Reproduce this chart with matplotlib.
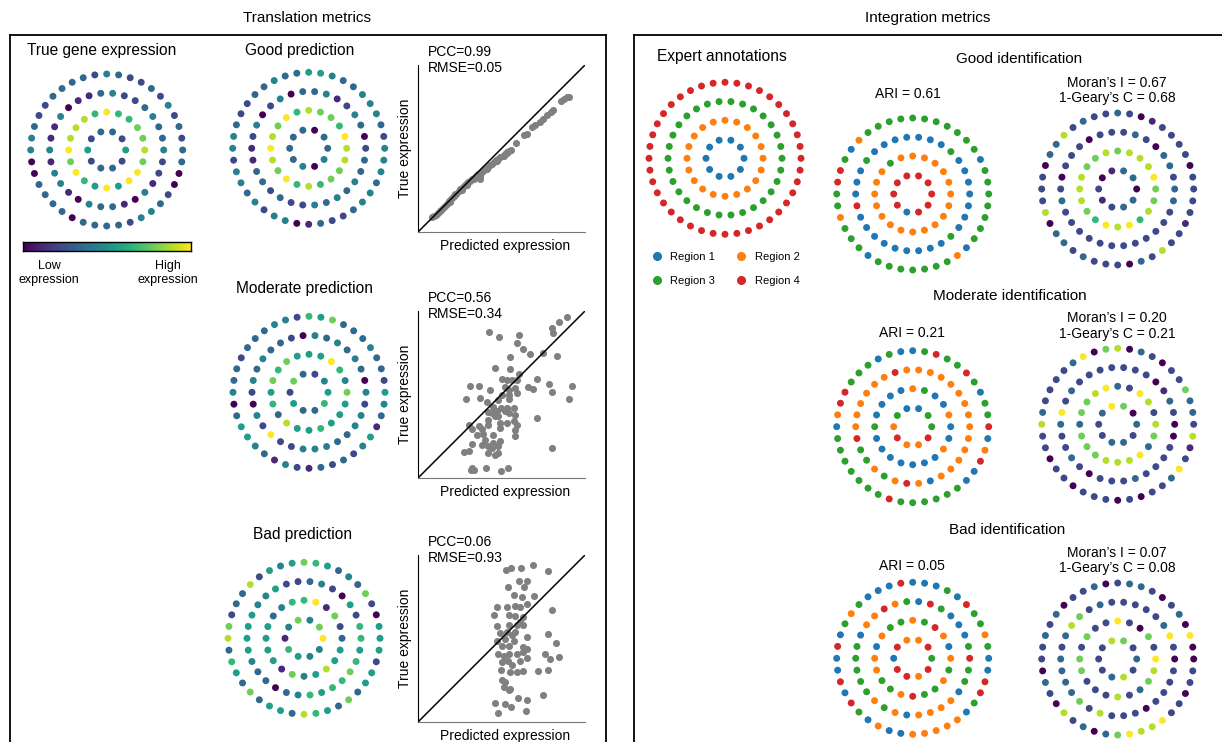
import numpy as np
import matplotlib
matplotlib.use('Agg')
import matplotlib.pyplot as plt
from matplotlib.lines import Line2D

plt.rcParams['font.family'] = ['Liberation Sans', 'DejaVu Sans']

# ring spot values: one string per ring (10/20/30/40 spots), read counter-clockwise
# starting at the right-most spot. expression levels 0..9 (viridis), regions 1..4
true_expr = ["5233252332",
             "8776696888" "9796595997",
             "4334322431" "1041141441" "0433104122",
             "3232423223" "4233332234" "4003333033" "3324432003"]
good_expr = ["3303333404",
             "8967786978" "9879686778",
             "2034214330" "4204211332" "3224343433",
             "4234443345" "5334332234" "4244342440" "1322344344"]
moderate_expr = ["5423725336",
                 "7469555767" "5638556555",
                 "4034343402" "3343420429" "2244433442",
                 "5233433375" "6244333233" "4035543142" "1323245134"]
bad_expr = ["9747416544",
            "3271966435" "5551745855",
            "6625024322" "5445555433" "0346566765",
            "5502734356" "7545283327" "8365373553" "8653735525"]

expert_regions = ["1" * 10, "2" * 20, "3" * 30, "4" * 40]
good_regions = ["4444444144",
                "2222222322" "2222222222",
                "1111311111" "1131114111" "1111113111",
                "3331333333" "3333321344" "3323331333" "3333213333"]
moderate_regions = ["3311324224",
                    "1211321111" "3111111121",
                    "2222222224" "2222224332" "3242122222",
                    "4331343343" "1131333442" "1333333343" "3333311421"]
bad_regions = ["3422414424",
               "2124323321" "2233243323",
               "4311134132" "4221333332" "3212222133",
               "1323341311" "1411132314" "1141431211" "2222213441"]

good_moran = ["0331021233",
              "7988878778" "8876989687",
              "3233023222" "0222023222" "2222222223",
              "2202222102" "3223283302" "2280332322" "2032822122"]
moderate_moran = ["3079322332",
                  "8289239877" "3777888937",
                  "0231022222" "2232932232" "0222322220",
                  "2337220230" "8709322223" "8220220222" "0202239218"]
bad_moran = ["3278222382",
             "9270292272" "7722282378",
             "0293222223" "2783233337" "2822202222",
             "0090320233" "2032203232" "2032082303" "7988922022"]

region_names = ['Region 1', 'Region 2', 'Region 3', 'Region 4']
region_colors = ['#1f77b4', '#ff7f0e', '#2ca02c', '#d62728']

# predicted vs true scatter values
good_pred = [0.084, 0.094, 0.108, 0.12, 0.13, 0.14, 0.15, 0.16, 0.174, 0.188,
             0.198, 0.208, 0.218, 0.23, 0.244, 0.254, 0.266, 0.278, 0.29, 0.302,
             0.314, 0.326, 0.338, 0.35, 0.362, 0.374, 0.386, 0.398, 0.41, 0.422,
             0.434, 0.446, 0.458, 0.47, 0.482, 0.494, 0.506, 0.518, 0.53, 0.542,
             0.554, 0.584, 0.634, 0.65, 0.684, 0.698, 0.73, 0.75, 0.774, 0.794,
             0.806, 0.854, 0.874, 0.894, 0.906, 0.194, 0.224, 0.264, 0.294, 0.334,
             0.414, 0.474, 0.514, 0.534, 0.374]
good_true = [0.09, 0.096, 0.104, 0.114, 0.124, 0.134, 0.146, 0.156, 0.17, 0.186,
             0.2, 0.21, 0.216, 0.23, 0.246, 0.256, 0.266, 0.278, 0.29, 0.298,
             0.306, 0.316, 0.326, 0.336, 0.346, 0.32, 0.36, 0.37, 0.38, 0.39,
             0.4, 0.41, 0.42, 0.43, 0.438, 0.448, 0.456, 0.466, 0.474, 0.484,
             0.494, 0.534, 0.578, 0.586, 0.63, 0.64, 0.66, 0.674, 0.7, 0.72,
             0.73, 0.786, 0.798, 0.81, 0.81, 0.18, 0.226, 0.254, 0.284, 0.32,
             0.376, 0.424, 0.458, 0.478, 0.338]

moderate_pred = [0.426, 0.486, 0.606, 0.805, 0.811, 0.847, 0.89, 0.592, 0.631, 0.671,
                 0.751, 0.831, 0.552, 0.462, 0.552, 0.602, 0.502, 0.532, 0.562, 0.592,
                 0.711, 0.787, 0.92, 0.313, 0.363, 0.432, 0.522, 0.542, 0.582, 0.592,
                 0.661, 0.691, 0.801, 0.287, 0.373, 0.412, 0.482, 0.542, 0.904, 0.452,
                 0.498, 0.532, 0.572, 0.422, 0.472, 0.522, 0.442, 0.482, 0.542, 0.582,
                 0.711, 0.303, 0.363, 0.422, 0.492, 0.532, 0.572, 0.592, 0.323, 0.382,
                 0.492, 0.582, 0.353, 0.392, 0.452, 0.582, 0.402, 0.452, 0.492, 0.323,
                 0.382, 0.422, 0.482, 0.442, 0.273, 0.303, 0.422, 0.482, 0.462, 0.801,
                 0.323, 0.333, 0.406, 0.496, 0.538, 0.319, 0.422, 0.462, 0.502, 0.542]
moderate_true = [0.873, 0.847, 0.857, 0.896, 0.867, 0.932, 0.966, 0.807, 0.773, 0.743,
                 0.747, 0.731, 0.727, 0.657, 0.651, 0.622, 0.592, 0.588, 0.588, 0.588,
                 0.594, 0.562, 0.548, 0.552, 0.548, 0.528, 0.544, 0.524, 0.538, 0.508,
                 0.544, 0.532, 0.512, 0.476, 0.478, 0.458, 0.468, 0.472, 0.472, 0.428,
                 0.418, 0.418, 0.418, 0.398, 0.404, 0.404, 0.388, 0.369, 0.388, 0.378,
                 0.359, 0.319, 0.309, 0.315, 0.329, 0.329, 0.339, 0.315, 0.293, 0.293,
                 0.299, 0.289, 0.259, 0.265, 0.259, 0.249, 0.229, 0.209, 0.219, 0.205,
                 0.199, 0.189, 0.193, 0.179, 0.153, 0.159, 0.149, 0.149, 0.135, 0.179,
                 0.06, 0.05, 0.06, 0.044, 0.06, 0.046, 0.349, 0.369, 0.498, 0.498]

bad_pred = [0.526, 0.558, 0.618, 0.691, 0.777, 0.606, 0.651, 0.538, 0.637, 0.572,
            0.697, 0.625, 0.472, 0.532, 0.582, 0.612, 0.651, 0.801, 0.458, 0.546,
            0.582, 0.627, 0.472, 0.542, 0.592, 0.631, 0.492, 0.532, 0.582, 0.472,
            0.522, 0.572, 0.651, 0.781, 0.827, 0.502, 0.542, 0.631, 0.651, 0.482,
            0.542, 0.592, 0.631, 0.761, 0.791, 0.847, 0.502, 0.538, 0.612, 0.651,
            0.498, 0.552, 0.592, 0.631, 0.721, 0.781, 0.502, 0.522, 0.512, 0.542,
            0.552, 0.751, 0.462, 0.522, 0.598, 0.651, 0.482, 0.558, 0.645, 0.562,
            0.612, 0.512, 0.562]
bad_true = [0.912, 0.92, 0.922, 0.942, 0.906, 0.847, 0.847, 0.811, 0.807, 0.763,
            0.753, 0.747, 0.687, 0.687, 0.697, 0.687, 0.707, 0.673, 0.641, 0.641,
            0.633, 0.627, 0.574, 0.578, 0.578, 0.578, 0.534, 0.538, 0.538, 0.488,
            0.498, 0.488, 0.508, 0.528, 0.474, 0.458, 0.454, 0.448, 0.438, 0.408,
            0.408, 0.408, 0.418, 0.408, 0.375, 0.388, 0.359, 0.363, 0.363, 0.382,
            0.309, 0.299, 0.299, 0.303, 0.303, 0.309, 0.249, 0.239, 0.209, 0.189,
            0.199, 0.163, 0.116, 0.11, 0.143, 0.129, 0.056, 0.09, 0.066, 0.518,
            0.598, 0.398, 0.339]

W, H = 1222, 742
fig = plt.figure(figsize=(W / 100, H / 100), dpi=100)

def px_axes(left, top, width, height):
    return fig.add_axes([left / W, 1 - (top + height) / H, width / W, height / H])

def ftext(x, y, s, **kw):
    fig.text(x / W, 1 - y / H, s, ha='center', va='center', **kw)

def fline(xs, ys):
    fig.add_artist(Line2D([x / W for x in xs], [1 - y / H for y in ys],
                          color='black', lw=1.3))

UNIT = 19.0
HALF = 4.6 * UNIT

def draw_ring(cx, cy, rings, kind):
    ax = px_axes(cx - HALF, cy - HALF, 2 * HALF, 2 * HALF)
    for i, ring in enumerate(rings):
        n = len(ring)
        theta = 2 * np.pi * np.arange(n) / n
        vals = np.array([int(c) for c in ring])
        if kind == 'expr':
            colors = plt.cm.viridis(vals / 9.0)
        else:
            colors = [region_colors[v - 1] for v in vals]
        ax.scatter((i + 1) * np.cos(theta), (i + 1) * np.sin(theta),
                   s=25, c=colors, linewidths=0)
    ax.set_xlim(-4.6, 4.6)
    ax.set_ylim(-4.6, 4.6)
    ax.axis('off')
    return ax

def draw_scatter(top, pred, true, pcc, rmse):
    ax = px_axes(418, top, 167, 167)
    ax.scatter(pred, true, s=26, color='#808080', linewidths=0, zorder=2)
    ax.plot([0, 1], [0, 1], color='black', lw=1.1, zorder=3)
    ax.set_xlim(0, 1)
    ax.set_ylim(0, 1)
    ax.set_xticks([])
    ax.set_yticks([])
    ax.spines['top'].set_visible(False)
    ax.spines['right'].set_visible(False)
    ax.spines['left'].set_color('black')
    ax.spines['bottom'].set_color('#777777')
    ax.text(-0.075, 0.5, 'True expression', rotation=90, ha='center', va='center',
            fontsize=10, transform=ax.transAxes)
    ax.text(0.52, -0.085, 'Predicted expression', ha='center', va='center',
            fontsize=10, transform=ax.transAxes)
    ax.text(0.06, 1.08, 'PCC=%s' % pcc, ha='left', va='center', fontsize=10,
            transform=ax.transAxes)
    ax.text(0.06, 0.98, 'RMSE=%s' % rmse, ha='left', va='center', fontsize=10,
            transform=ax.transAxes)

# frames
fline([10, 10], [35, 742])
fline([10, 605.5], [35, 35])
fline([605.5, 605.5], [35, 742])
fline([633.5, 633.5], [35, 742])
fline([633.5, 1222], [35, 35])

ftext(307, 18, 'Translation metrics', fontsize=11)
ftext(928, 18, 'Integration metrics', fontsize=11)

# translation side
ftext(102, 51, 'True gene expression', fontsize=11.2)
draw_ring(106.7, 150, true_expr, 'expr')
cax = px_axes(23, 242, 168, 9)
cax.imshow(np.linspace(0, 1, 256)[None, :], aspect='auto', cmap='viridis')
cax.set_xticks([])
cax.set_yticks([])
for sp in cax.spines.values():
    sp.set_linewidth(1.0)
ftext(49, 273, 'Low\nexpression', fontsize=9, linespacing=1.25)
ftext(168, 273, 'High\nexpression', fontsize=9, linespacing=1.25)

ftext(300, 50, 'Good prediction', fontsize=11.2)
draw_ring(308.7, 148.3, good_expr, 'expr')
draw_scatter(65, good_pred, good_true, '0.99', '0.05')

ftext(305, 288, 'Moderate prediction', fontsize=11.2)
draw_ring(309, 392.3, moderate_expr, 'expr')
draw_scatter(311, moderate_pred, moderate_true, '0.56', '0.34')

ftext(303, 534, 'Bad prediction', fontsize=11.2)
draw_ring(304, 638.3, bad_expr, 'expr')
draw_scatter(555, bad_pred, bad_true, '0.06', '0.93')

# integration side
ftext(722, 56, 'Expert annotations', fontsize=11.2)
draw_ring(725, 158.3, expert_regions, 'region')
# legend fills column-wise: order so rows read Region 1/2 then Region 3/4
order = [0, 2, 1, 3]
handles = [Line2D([], [], marker='o', ls='', color=region_colors[i], markersize=5.5)
           for i in order]
fig.legend(handles, [region_names[i] for i in order], ncol=2, loc='center left',
           bbox_to_anchor=(651 / W, 1 - 269 / H), frameon=False, fontsize=8,
           handlelength=1.0, handletextpad=0.7, columnspacing=1.9, labelspacing=1.25,
           borderaxespad=0, borderpad=0)

ftext(1019, 59, 'Good identification', fontsize=11)
ftext(908, 94, 'ARI = 0.61', fontsize=10)
ftext(1117, 90.5, "Moran\u2019s I = 0.67\n1-Geary\u2019s C = 0.68", fontsize=10, linespacing=1.15)
draw_ring(912.7, 194, good_regions, 'region')
draw_ring(1117.7, 189, good_moran, 'expr')

ftext(1010, 296, 'Moderate identification', fontsize=11)
ftext(912, 333, 'ARI = 0.21', fontsize=10)
ftext(1117, 326, "Moran\u2019s I = 0.20\n1-Geary\u2019s C = 0.21", fontsize=10, linespacing=1.15)
draw_ring(912.7, 426.7, moderate_regions, 'region')
draw_ring(1117.7, 424.3, moderate_moran, 'expr')

ftext(1007, 530, 'Bad identification', fontsize=11)
ftext(912, 566, 'ARI = 0.05', fontsize=10)
ftext(1117, 560.5, "Moran\u2019s I = 0.07\n1-Geary\u2019s C = 0.08", fontsize=10, linespacing=1.15)
draw_ring(912.7, 658.3, bad_regions, 'region')
draw_ring(1117.7, 659, bad_moran, 'expr')

fig.savefig('out.png', dpi=100)
